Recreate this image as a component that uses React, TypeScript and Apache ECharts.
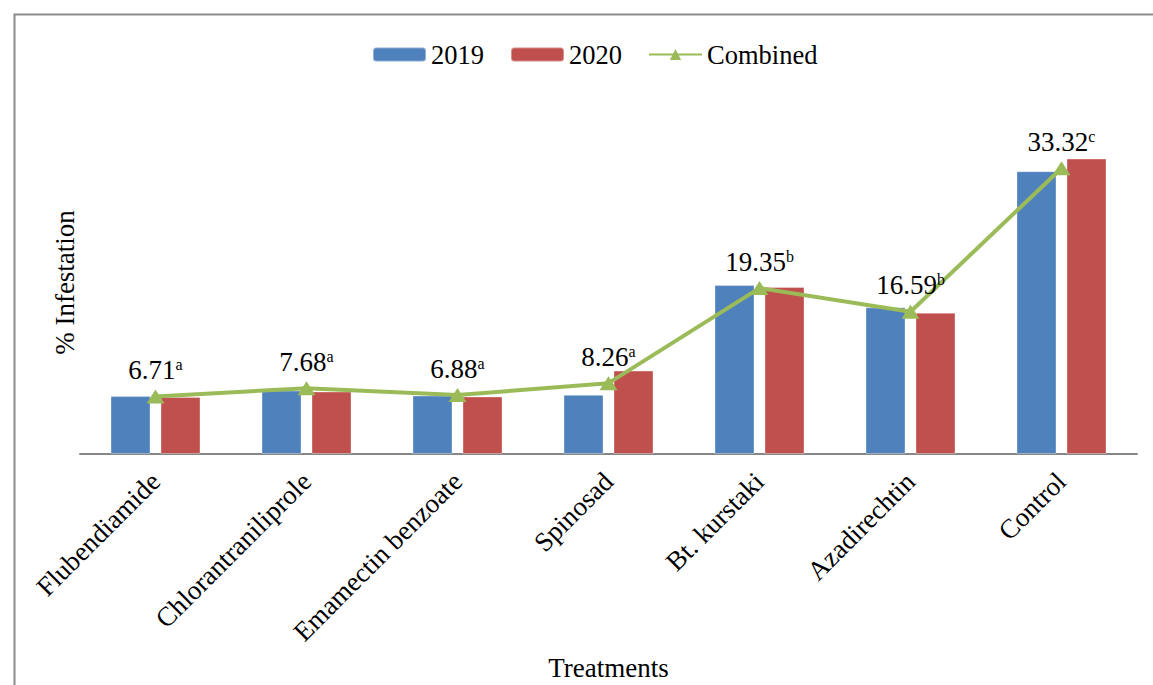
import React, { useEffect, useRef } from "react";
import * as echarts from "echarts";

const categories = [
  "Flubendiamide",
  "Chlorantraniliprole",
  "Emamectin benzoate",
  "Spinosad",
  "Bt. kurstaki",
  "Azadirechtin",
  "Control",
];
const values2019 = [6.75, 7.4, 6.82, 6.9, 19.7, 17.1, 32.98];
const values2020 = [6.66, 7.29, 6.71, 9.73, 19.48, 16.48, 34.46];
const combined = [6.71, 7.68, 6.88, 8.26, 19.35, 16.59, 33.32];
const letters = ["a", "a", "a", "a", "b", "b", "c"];

const FONT = "Liberation Serif";
const FS = 27;

export default function App() {
  const ref = useRef<HTMLDivElement>(null);
  useEffect(() => {
    if (!ref.current) return;
    const chart = echarts.init(ref.current, null, { renderer: "svg" });
    chart.setOption({
      animation: false,
      backgroundColor: "#ffffff",
      textStyle: { fontFamily: FONT },
      graphic: [
        {
          type: "rect",
          left: 12,
          top: 12,
          shape: { width: 1170, height: 700 },
          style: { fill: "none", stroke: "#8c8c8c", lineWidth: 2 },
          silent: true,
        },
      ],
      legend: {
        left: 367,
        top: 36,
        itemWidth: 53,
        itemHeight: 14,
        itemGap: 26,
        textStyle: { fontFamily: FONT, fontSize: 26.5, color: "#000" },
        data: ["2019", "2020", "Combined"],
      },
      grid: {
        left: 80,
        right: 16,
        top: 111,
        bottom: 231,
        outerBoundsMode: "none",
        containLabel: false,
      },
      xAxis: {
        type: "category",
        data: categories,
        name: "Treatments",
        nameLocation: "middle",
        nameGap: 200,
        nameTextStyle: { fontFamily: FONT, fontSize: FS, color: "#000", lineHeight: 28 },
        axisLine: { lineStyle: { color: "#878787", width: 2 } },
        axisTick: { show: false },
        axisLabel: {
          interval: 0,
          rotate: 45,
          margin: 23,
          fontFamily: FONT,
          fontSize: 27,
          color: "#000",
        },
      },
      yAxis: {
        type: "value",
        min: 0,
        max: 40,
        name: "% Infestation",
        nameLocation: "middle",
        nameGap: 2,
        nameTextStyle: { fontFamily: FONT, fontSize: FS, color: "#000" },
        axisLine: { show: false },
        axisTick: { show: false },
        axisLabel: { show: false },
        splitLine: { show: false },
      },
      series: [
        {
          name: "2019",
          type: "bar",
          data: values2019,
          barWidth: 40,
          barGap: "25%",
          itemStyle: { color: "#4F81BD", borderColor: "rgba(255,255,255,0.35)", borderWidth: 1 },
        },
        {
          name: "2020",
          type: "bar",
          data: values2020,
          barWidth: 40,
          itemStyle: { color: "#C0504D", borderColor: "rgba(255,255,255,0.35)", borderWidth: 1 },
        },
        {
          name: "Combined",
          type: "line",
          data: combined,
          symbol: "triangle",
          symbolSize: [18, 14],
          lineStyle: { color: "#9BBB59", width: 4 },
          itemStyle: { color: "#9BBB59" },
          z: 5,
          label: {
            show: true,
            position: "top",
            distance: 6,
            formatter: (p: any) =>
              `{v|${p.value.toFixed(2)}}{s|${letters[p.dataIndex]}}`,
            rich: {
              v: { fontFamily: FONT, fontSize: FS, color: "#000" },
              s: {
                fontFamily: FONT,
                fontSize: 16,
                color: "#000",
                verticalAlign: "top",
                padding: [0, 0, 10, 0],
              },
            },
          },
        },
      ],
    });
    return () => chart.dispose();
  }, []);
  return (
    <div
      ref={ref}
      style={{ position: "fixed", left: 0, top: 0, width: 1153, height: 685 }}
    />
  );
}
